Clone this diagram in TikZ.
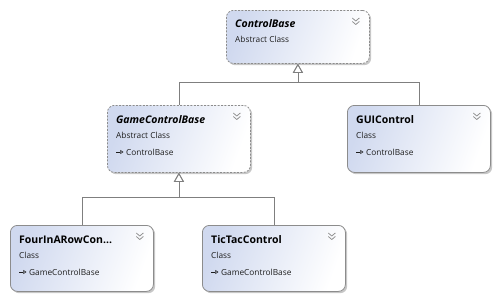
\documentclass[tikz,border=0pt]{standalone}
\usepackage{fontspec}
\setmainfont{Open Sans}
\usetikzlibrary{arrows.meta,shadows,calc}
\definecolor{boxblue}{HTML}{D0D9EF}
\definecolor{boxedge}{HTML}{8C8C8C}
\definecolor{linegray}{HTML}{7F7F7F}
\definecolor{txtgray}{HTML}{1E1E1E}
\tikzset{
  classbox/.style={rectangle, rounded corners=7pt, draw=boxedge, line width=0.8pt,
    minimum width=143pt, minimum height=66pt, anchor=north west, inner sep=0pt,
    left color=boxblue, right color=white, shading angle=70,
    drop shadow={shadow xshift=1.8pt, shadow yshift=-1.8pt, fill=black, opacity=0.22}},
  abstractbox/.style={classbox, dash pattern=on 2pt off 1.4pt},
  titletext/.style={anchor=base west, inner sep=0pt, font=\fontsize{10.5}{12}\selectfont\bfseries},
  subtext/.style={anchor=base west, inner sep=0pt, text=txtgray, font=\fontsize{8.3}{10}\selectfont},
  chev/.style={draw=gray!90, line width=0.75pt},
  inherit/.style={draw=linegray, line width=0.8pt, -{Triangle[open, length=9pt, width=10pt]}},
  baseicon/.style={draw=txtgray, line width=0.6pt, -{Triangle[open, length=3.2pt, width=4pt]}}
}
% chevron marks in the top right corner of a box
\newcommand{\boxchevron}[1]{%
  \draw[chev] ($(#1.north east)+(-17.5,8)$) -- ++(3.5,3) -- ++(3.5,-3);
  \draw[chev] ($(#1.north east)+(-17.5,11.5)$) -- ++(3.5,3) -- ++(3.5,-3);
}
% small base-class arrow before the base-class name
\newcommand{\baseicon}[1]{%
  \draw[baseicon] ($(#1.north west)+(9,47)$) -- ++(7.5,0);
}
\begin{document}
\begin{tikzpicture}[x=1pt, y=-1pt]
  \useasboundingbox (0,0) rectangle (499,301);
  \fill[white] (0,0) rectangle (499,301);

  % class boxes
  \node[abstractbox, minimum height=53pt] (cb) at (226,10) {};
  \node[abstractbox, minimum height=67pt] (gcb) at (107,105) {};
  \node[classbox, minimum height=67pt] (gui) at (347,105) {};
  \node[classbox] (four) at (10,225) {};
  \node[classbox] (tic) at (202,225) {};

  % ControlBase
  \node[titletext] (cbt) at ($(cb.north west)+(9,17)$) {\itshape ControlBase};
  \node[subtext] (cbs) at ($(cb.north west)+(9,32.5)$) {Abstract Class};
  \boxchevron{cb}

  % GameControlBase
  \node[titletext] (gcbt) at ($(gcb.north west)+(9,18)$) {\itshape GameControlBase};
  \node[subtext] (gcbs) at ($(gcb.north west)+(9,33.5)$) {Abstract Class};
  \node[subtext] (gcbb) at ($(gcb.north west)+(19,50)$) {ControlBase};
  \baseicon{gcb}
  \boxchevron{gcb}

  % GUIControl
  \node[titletext] (guit) at ($(gui.north west)+(9,18)$) {GUIControl};
  \node[subtext] (guis) at ($(gui.north west)+(9,33.5)$) {Class};
  \node[subtext] (guib) at ($(gui.north west)+(19,50)$) {ControlBase};
  \baseicon{gui}
  \boxchevron{gui}

  % FourInARowControl
  \node[titletext] (fourt) at ($(four.north west)+(9,18)$) {FourInARowCon...};
  \node[subtext] (fours) at ($(four.north west)+(9,33.5)$) {Class};
  \node[subtext] (fourb) at ($(four.north west)+(19,50)$) {GameControlBase};
  \baseicon{four}
  \boxchevron{four}

  % TicTacControl
  \node[titletext] (tict) at ($(tic.north west)+(9,18)$) {TicTacControl};
  \node[subtext] (tics) at ($(tic.north west)+(9,33.5)$) {Class};
  \node[subtext] (ticb) at ($(tic.north west)+(19,50)$) {GameControlBase};
  \baseicon{tic}
  \boxchevron{tic}

  % inheritance connectors
  \coordinate (j1) at ($(cb.south)+(0,19)$);
  \coordinate (j2) at ($(gcb.south)+(0,25)$);
  \draw[inherit] (gcb.north) |- (j1) -| (cb.south);
  \draw[inherit] (gui.north) |- (j1) -| (cb.south);
  \draw[inherit] (four.north) |- (j2) -| (gcb.south);
  \draw[inherit] (tic.north) |- (j2) -| (gcb.south);
\end{tikzpicture}
\end{document}
